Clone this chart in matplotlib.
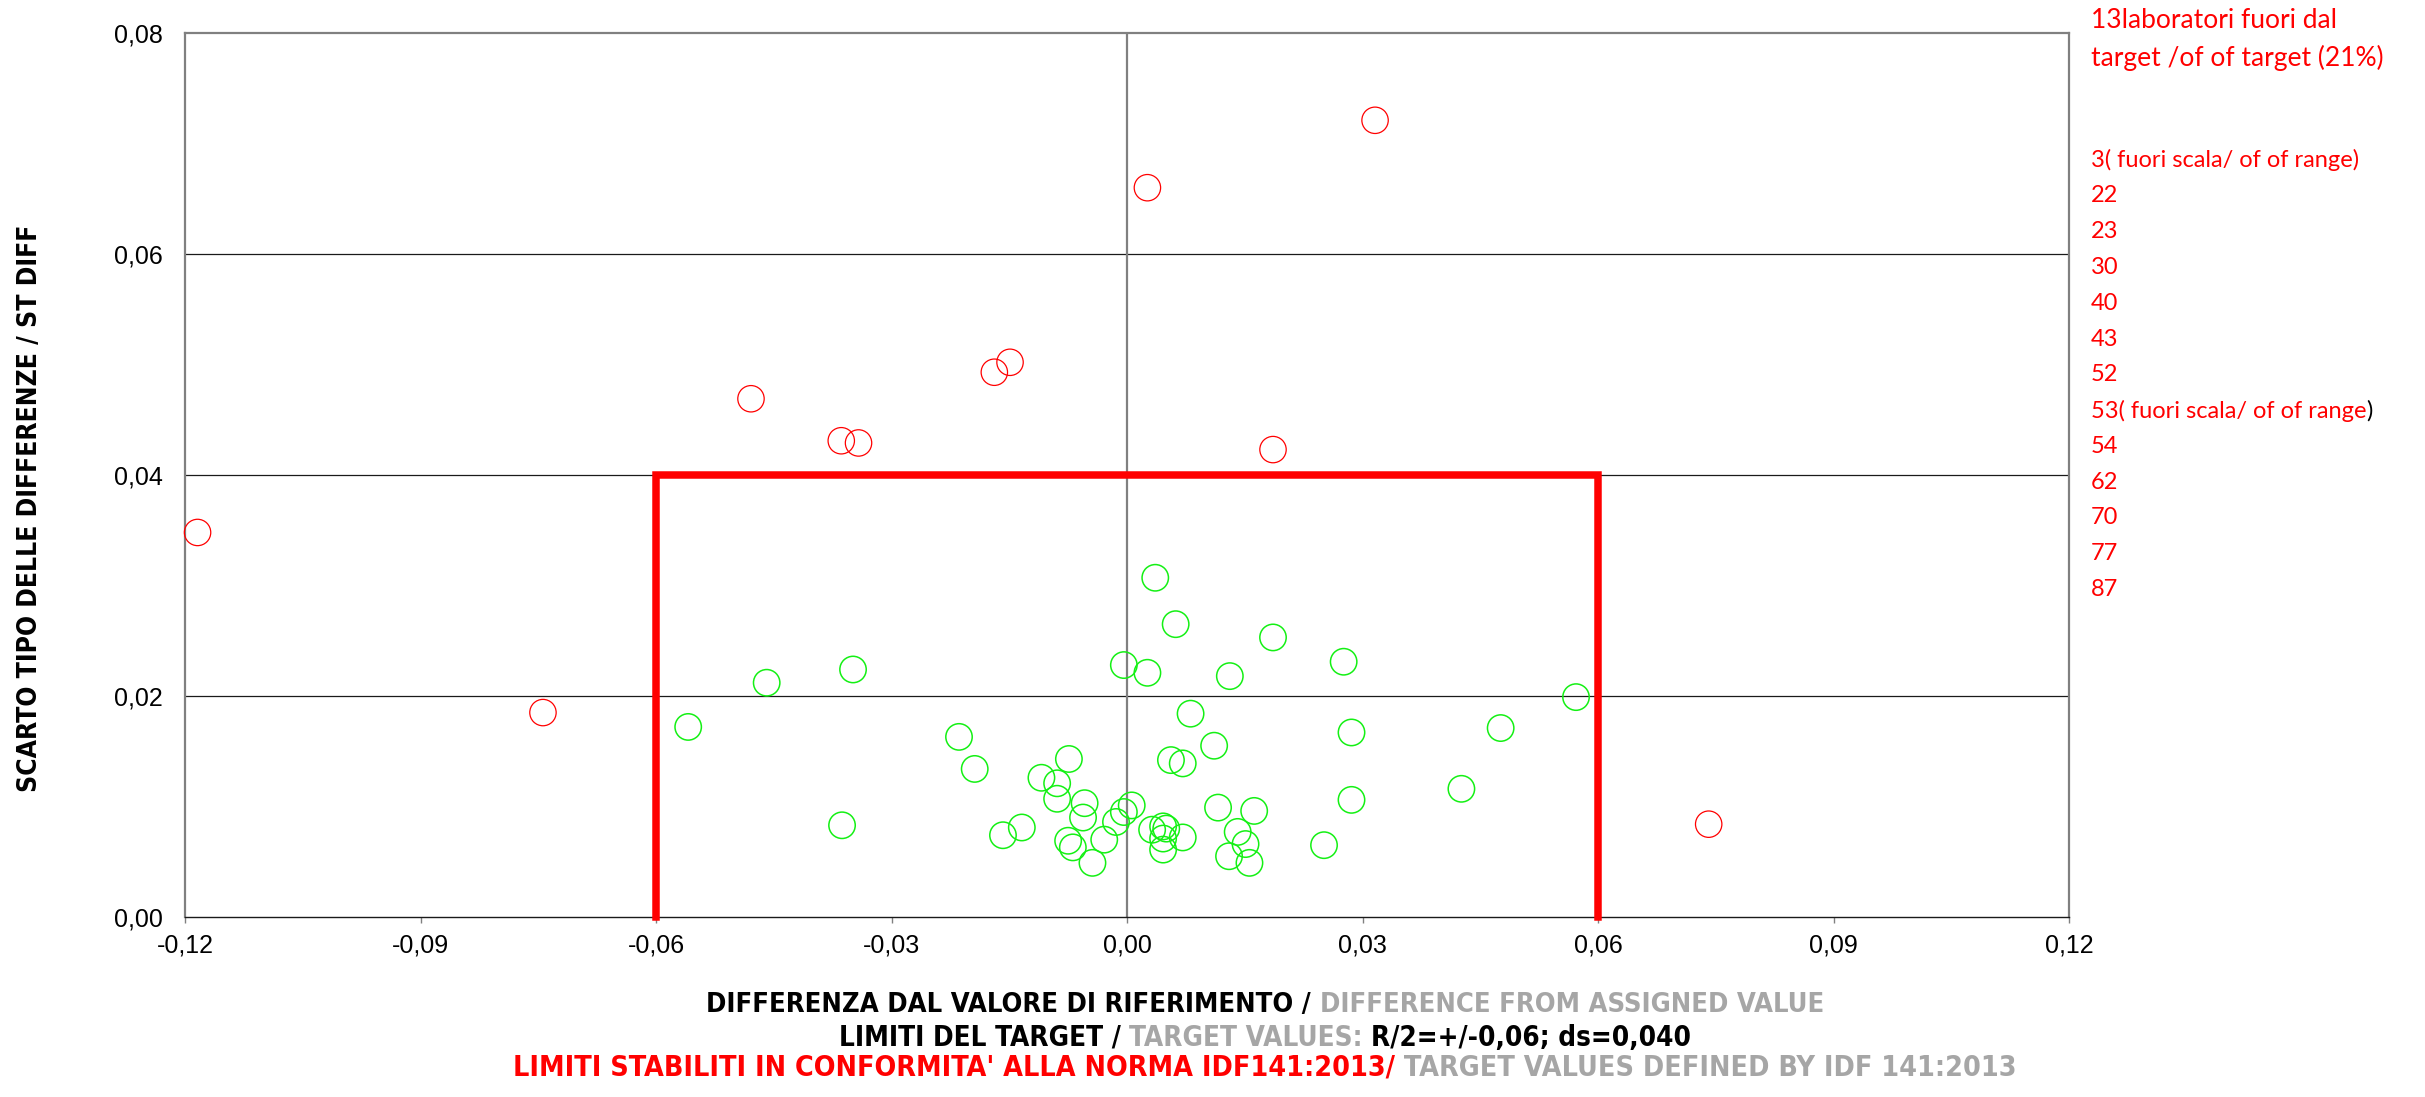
import matplotlib
matplotlib.use('Agg')
import matplotlib.pyplot as plt
from matplotlib.offsetbox import TextArea, HPacker, AnnotationBbox
from matplotlib.ticker import FixedLocator, FuncFormatter

# laboratori entro il target (verdi)
in_x = [0.0036, 0.0062, 0.0186, 0.0276, -0.0004, 0.0026, 0.0131, 0.0081,
        -0.0214, 0.0286, 0.0111, 0.0056, 0.0071, -0.0194, -0.0074, -0.0109,
        -0.0089, -0.0089, -0.0054, -0.0056, 0.0006, -0.0004, -0.0014, 0.0286,
        0.0116, 0.0162, -0.0158, -0.0134, -0.0075, -0.0069, -0.0029, -0.0044,
        0.0032, 0.0046, 0.0050, 0.0046, 0.0046, 0.0071, 0.0141, 0.0151,
        0.0130, 0.0156, 0.0251, 0.0426, 0.0476, 0.0572, -0.0459, -0.0349,
        -0.0559, -0.0363]
in_sd = [0.0307, 0.0265, 0.0253, 0.0231, 0.0228, 0.0221, 0.0218, 0.0184,
         0.0163, 0.0167, 0.0155, 0.0142, 0.0139, 0.0134, 0.0143, 0.0126,
         0.0121, 0.0107, 0.0103, 0.0090, 0.0101, 0.0095, 0.0086, 0.0106,
         0.0099, 0.0096, 0.0074, 0.0081, 0.0069, 0.0063, 0.0070, 0.0049,
         0.0079, 0.0082, 0.0080, 0.0071, 0.0061, 0.0072, 0.0077, 0.0066,
         0.0055, 0.0049, 0.0065, 0.0116, 0.0171, 0.0199, 0.0212, 0.0224,
         0.0172, 0.0083]

# laboratori fuori target (rossi)
out_x = [0.0316, 0.0026, -0.0479, -0.0169, -0.0149, -0.0364, -0.0342,
         0.0186, -0.1184, -0.0744, 0.0741]
out_sd = [0.0721, 0.0660, 0.0469, 0.0493, 0.0502, 0.0431, 0.0429,
          0.0423, 0.0348, 0.0185, 0.0084]

# limiti del target
target_x = [-0.06, -0.06, 0.06, 0.06]
target_sd = [0.0, 0.04, 0.04, 0.0]

x_ticks = [-0.12, -0.09, -0.06, -0.03, 0.0, 0.03, 0.06, 0.09, 0.12]
y_ticks = [0.0, 0.02, 0.04, 0.06, 0.08]

header = ["13laboratori fuori dal", "target /of of target (21%)"]
out_labs = ["3( fuori scala/ of of range)", "22", "23", "30", "40", "43", "52",
            "53( fuori scala/ of of range)", "54", "62", "70", "77", "87"]

RED = '#FF0000'
GREEN = '#14F014'
GREY = '#A6A6A6'
NARROW = dict(family=['DejaVu Sans'], fontstretch='condensed',
              fontweight='bold')
SIDE = ['Lato', 'DejaVu Sans']

W, H = 2425, 1097
fig = plt.figure(figsize=(W / 100, H / 100), dpi=100)
ax = fig.add_axes([185 / W, 1 - 917 / H, (2069 - 185) / W, (917 - 33) / H])

ax.set_xlim(-0.12, 0.12)
ax.set_ylim(0, 0.08)

for v in y_ticks[1:-1]:
    ax.axhline(v, color='#1a1a1a', lw=0.9, zorder=1)
ax.axvline(0, color='#808080', lw=1.6, zorder=1)

ax.scatter(in_x, in_sd, s=19 ** 2, facecolors='none', edgecolors=GREEN,
           linewidths=1.1, zorder=3)
ax.scatter(out_x, out_sd, s=19 ** 2, facecolors='none', edgecolors=RED,
           linewidths=0.9, zorder=3, clip_on=False)
ax.plot(target_x, target_sd, color=RED, lw=5.4, zorder=4,
        solid_joinstyle='miter', clip_on=False)

for side in ['left', 'top', 'right']:
    ax.spines[side].set_color('#808080')
    ax.spines[side].set_linewidth(1.6)
ax.spines['bottom'].set_color('#1a1a1a')
ax.spines['bottom'].set_linewidth(1.0)

fmt = FuncFormatter(lambda v, p: f"{v:.2f}".replace('.', ','))
ax.xaxis.set_major_locator(FixedLocator(x_ticks))
ax.yaxis.set_major_locator(FixedLocator(y_ticks))
ax.xaxis.set_major_formatter(fmt)
ax.yaxis.set_major_formatter(fmt)
ax.tick_params(axis='x', length=4, width=1, color='#808080', pad=8,
               labelsize=18)
ax.tick_params(axis='y', length=0, pad=16, labelsize=18)
for lab in ax.get_xticklabels() + ax.get_yticklabels():
    lab.set_family('Liberation Sans')

fig.text(30 / W, 1 - 508 / H, "SCARTO TIPO DELLE DIFFERENZE / ST DIFF",
         rotation=90, ha='center', va='center', fontsize=19, **NARROW)


def colored_line(parts, y, size=20):
    boxes = [TextArea(s, textprops=dict(color=c, fontsize=size, **NARROW))
             for s, c in parts]
    pack = HPacker(children=boxes, align='baseline', pad=0, sep=0)
    ab = AnnotationBbox(pack, (1265 / W, 1 - y / H), xycoords='figure fraction',
                        frameon=False, box_alignment=(0.5, 0.5), pad=0,
                        annotation_clip=False)
    fig.add_artist(ab)


colored_line([("DIFFERENZA DAL VALORE DI RIFERIMENTO / ", 'black'),
              ("DIFFERENCE FROM ASSIGNED VALUE", GREY)], 1005, 19.6)
colored_line([("LIMITI DEL TARGET / ", 'black'),
              ("TARGET VALUES: ", GREY),
              ("R/2=+/-0,06; ds=0,040", 'black')], 1038)
colored_line([("LIMITI STABILITI IN CONFORMITA' ALLA NORMA IDF141:2013/", RED),
              (" TARGET VALUES DEFINED BY IDF 141:2013", GREY)], 1068, 20.5)

tx = 2091 / W
fig.text(tx, 1 - 20 / H, header[0], color=RED, fontsize=19, family=SIDE,
         va='center')
fig.text(tx, 1 - 58 / H, header[1], color=RED, fontsize=19, family=SIDE,
         va='center')
for i, lab in enumerate(out_labs):
    y = 160 + i * 35.8
    if lab.endswith(')') and lab.startswith('53'):
        boxes = [TextArea(lab[:-1], textprops=dict(color=RED, fontsize=17,
                                                   family=SIDE)),
                 TextArea(')', textprops=dict(color='black', fontsize=17,
                                              family=SIDE))]
        pack = HPacker(children=boxes, align='baseline', pad=0, sep=0)
        ab = AnnotationBbox(pack, (tx, 1 - y / H), xycoords='figure fraction',
                            frameon=False, box_alignment=(0, 0.5), pad=0,
                            annotation_clip=False)
        fig.add_artist(ab)
    else:
        fig.text(tx, 1 - y / H, lab, color=RED, fontsize=17, family=SIDE,
                 va='center')

fig.savefig('out.png', dpi=100)
